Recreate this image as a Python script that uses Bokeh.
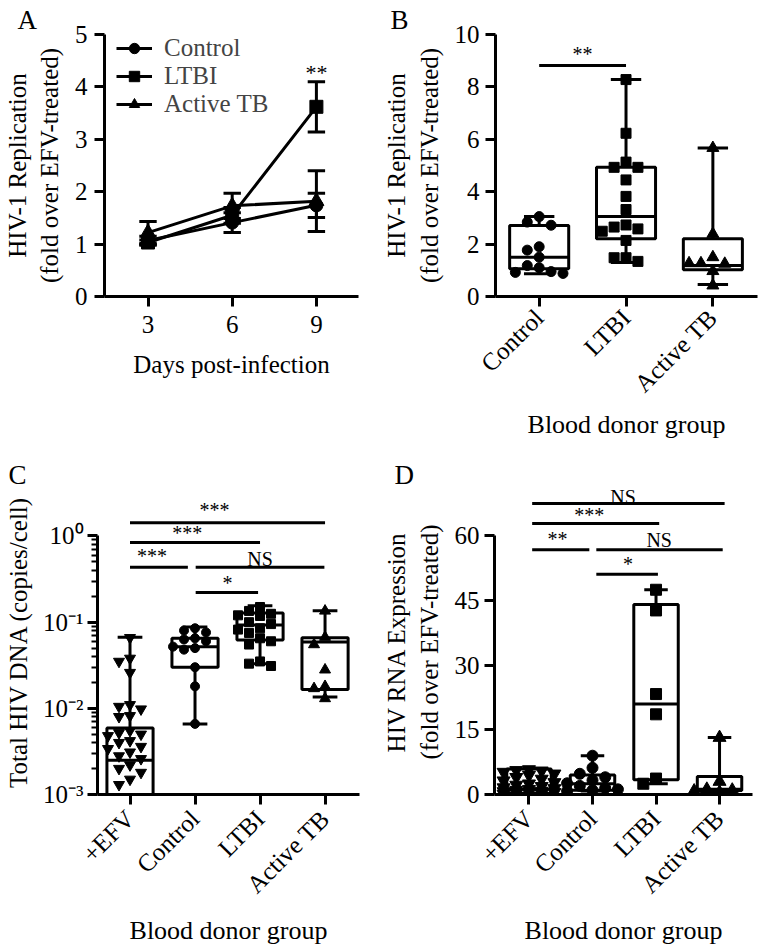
import math
from bokeh.plotting import figure
from bokeh.models import Range1d, FixedTicker, Legend, LegendItem, ColumnDataSource
from bokeh.layouts import column, row
from bokeh.core.properties import value
from bokeh.embed import file_html
from bokeh.resources import INLINE

FONT = "Liberation Serif"

# ---------------- Panel A data ----------------
days = [3, 6, 9]
a_names = ["Control", "LTBI", "Active TB"]
a_control = [1.07, 1.41, 1.74]
a_control_err = [0.08, 0.19, 0.23]
a_ltbi = [1.03, 1.55, 3.62]
a_ltbi_err = [0.05, 0.15, 0.48]
a_active = [1.22, 1.73, 1.82]
a_active_err = [0.21, 0.24, 0.58]
a_sig_x = [9]
a_sig_y = [4.27]
a_sig_text = ["**"]
a_yticks = [0, 1, 2, 3, 4, 5]

# ---------------- Panel B data ----------------
b_groups = ["Control", "LTBI", "Active TB"]
b_control = [3.05, 2.84, 2.72, 1.90, 1.77, 1.50, 1.18, 1.10, 0.95, 0.92, 0.88]
b_ltbi = [8.28, 6.23, 5.13, 4.93, 4.93, 4.45, 3.82, 3.32, 2.73, 2.65, 2.58, 2.49,
          2.14, 1.48, 1.48, 1.34]
b_active = [5.67, 2.39, 1.50, 1.27, 1.25, 1.27, 0.97, 0.42]
b_q1 = [1.06, 2.20, 1.02]
b_median = [1.50, 3.05, 1.18]
b_q3 = [2.71, 4.93, 2.20]
b_min = [0.87, 1.30, 0.46]
b_max = [3.05, 8.28, 5.67]
b_sig_x0 = [1.0]
b_sig_x1 = [2.0]
b_sig_y = [8.82]
b_sig_tx = [1.5]
b_sig_ty = [9.27]
b_sig_text = ["**"]
b_yticks = [0, 2, 4, 6, 8, 10]

# ---------------- Panel C data ----------------
c_groups = ["+EFV", "Control", "LTBI", "Active TB"]
c_efv = [0.066, 0.038, 0.035, 0.026, 0.011, 0.0105, 0.0098, 0.0082, 0.0080, 0.0055,
         0.0052, 0.0050, 0.0048, 0.0042, 0.0040, 0.0036, 0.0034, 0.0031, 0.0028,
         0.0026, 0.0022, 0.0020, 0.0018, 0.0015, 0.0013]
c_control = [0.085, 0.080, 0.076, 0.065, 0.063, 0.060, 0.052, 0.050, 0.048, 0.030,
             0.018, 0.0066]
c_ltbi = [0.150, 0.135, 0.125, 0.120, 0.118, 0.100, 0.095, 0.085, 0.082, 0.075,
          0.065, 0.060, 0.055, 0.035, 0.033, 0.031]
c_active = [0.135, 0.067, 0.055, 0.028, 0.018, 0.017, 0.013]
c_q1 = [0.0009, 0.030, 0.062, 0.0165]
c_median = [0.0025, 0.052, 0.093, 0.059]
c_q3 = [0.0059, 0.065, 0.128, 0.066]
c_min = [0.0013, 0.0066, 0.033, 0.0135]
c_max = [0.067, 0.088, 0.155, 0.136]
c_sig_x0 = [1.0, 1.0, 1.0, 2.01, 2.01]
c_sig_x1 = [4.0, 3.0, 1.89, 3.99, 2.97]
c_sig_y = [1.42, 0.838, 0.433, 0.433, 0.221]
c_sig_tx = [2.30, 1.88, 1.34, 3.0, 2.5]
c_sig_ty = [1.99, 1.09, 0.59, 0.54, 0.287]
c_sig_text = ["***", "***", "***", "NS", "*"]
c_yticks = [0.001, 0.01, 0.1, 1.0]
c_ytick_labels = ["10\u207b\u00b3", "10\u207b\u00b2", "10\u207b\u00b9", "10\u2070"]

# ---------------- Panel D data ----------------
d_groups = ["+EFV", "Control", "LTBI", "Active TB"]
d_efv = [5.8, 5.6, 5.5, 5.2, 4.8, 4.5, 4.0, 3.6, 3.2, 2.8, 2.5, 2.2, 1.9, 1.6, 1.4,
         1.2, 1.0, 0.8, 0.7, 0.5, 0.4, 0.3, 0.2, 0.1]
d_control = [9.0, 6.2, 4.8, 4.0, 3.3, 2.6, 2.0, 1.5, 1.2, 1.0, 0.8]
d_ltbi = [47.5, 42.7, 23.3, 18.6, 3.7, 2.5]
d_active = [13.2, 3.0, 1.2, 1.0, 0.8, 0.5]
d_q1 = [0.3, 1.0, 3.4, 0.9]
d_median = [1.2, 2.5, 21.0, 1.2]
d_q3 = [5.9, 4.5, 44.1, 4.2]
d_min = [0.1, 0.8, 2.5, 0.5]
d_max = [5.8, 9.0, 47.5, 13.2]
d_sig_x0 = [1.05, 1.05, 1.05, 2.06, 2.06]
d_sig_x1 = [4.08, 3.05, 1.95, 4.05, 3.03]
d_sig_y = [67.5, 62.9, 56.8, 56.8, 51.1]
d_sig_tx = [2.48, 1.95, 1.45, 3.05, 2.56]
d_sig_ty = [69.0, 64.8, 59.3, 59.1, 53.4]
d_sig_text = ["NS", "***", "**", "NS", "*"]
d_yticks = [0, 15, 30, 45, 60]

# ---------------- geometry (page pixels) ----------------
GA = dict(W=380, H=455, L=95, R=22, T=34, B=159, xr=(1.45, 10.5), yr=(0, 5), log=False)
GB = dict(W=380, H=455, L=113, R=3, T=34, B=159, xr=(0.497, 3.514), yr=(0, 10), log=False)
GC = dict(W=380, H=492, L=97, R=21, T=34, B=149, xr=(0.5, 4.53),
          yr=(1e-3, 10 ** 0.5395), log=True)
GD = dict(W=380, H=492, L=108, R=8, T=34, B=149, xr=(0.457, 4.519),
          yr=(0, 70.76), log=False)


def fsize(g):
    return g["W"] - g["L"] - g["R"], g["H"] - g["T"] - g["B"]


def xppu(g):
    fw, fh = fsize(g)
    return fw / (g["xr"][1] - g["xr"][0])


def ypx_func(g):
    fw, fh = fsize(g)
    if g["log"]:
        a, b = math.log10(g["yr"][0]), math.log10(g["yr"][1])
        k = fh / (b - a)
        return lambda v: math.log10(v) * k
    k = fh / (g["yr"][1] - g["yr"][0])
    return lambda v: v * k


def style_axis(ax):
    ax.axis_line_width = 3
    ax.axis_line_color = "black"
    ax.major_tick_line_width = 3
    ax.major_tick_line_color = "black"
    ax.major_tick_out = 10
    ax.major_tick_in = 0
    ax.minor_tick_line_color = None
    ax.major_label_text_font = FONT
    ax.major_label_text_font_size = "25px"
    ax.major_label_text_color = "black"
    ax.axis_label_text_font = FONT
    ax.axis_label_text_font_size = "25px"
    ax.axis_label_text_font_style = "normal"
    ax.axis_label_text_color = "black"


def make_fig(g, letter):
    p = figure(width=g["W"], height=g["H"],
               x_range=Range1d(*g["xr"]), y_range=Range1d(*g["yr"]),
               y_axis_type="log" if g["log"] else "linear",
               output_backend="svg", toolbar_location=None,
               min_border_left=g["L"], min_border_right=g["R"],
               min_border_top=g["T"], min_border_bottom=g["B"])
    p.outline_line_color = None
    p.xgrid.visible = False
    p.ygrid.visible = False
    p.background_fill_color = "white"
    p.border_fill_color = "white"
    for ax in p.axis:
        style_axis(ax)
    p.title.text = letter
    p.title.text_font = FONT
    p.title.text_font_size = "27px"
    p.title.text_font_style = "normal"
    p.title.text_color = "black"
    p.title.align = "left"
    p.title.offset = 8 - g["L"]
    p.title.standoff = 0
    return p


def swarm(vals, ypx, ppu, msize, half_w):
    step = msize + 2
    maxk = max(1, int(round(half_w / step)))
    placed = []
    offs = []
    for v in vals:
        y = ypx(v)
        cands = [0]
        for k in range(1, maxk + 1):
            cands += [-k * step, k * step]
        chosen = None
        for c in cands:
            if all(not (abs(c - qx) < step * 0.95 and abs(y - qy) < msize * 0.95) for qx, qy in placed):
                chosen = c
                break
        if chosen is None:
            chosen = max(cands, key=lambda c: min((c - qx) ** 2 + (y - qy) ** 2 for qx, qy in placed))
        placed.append((chosen, y))
        offs.append(chosen / ppu)
    return offs


def box_panel(p, g, groups, q1, med, q3, lo, hi, box_w, cap_w, msize):
    xs = list(range(1, len(q1) + 1))
    src = ColumnDataSource(dict(
        x=xs, q1=q1, med=med, q3=q3, lo=lo, hi=hi,
        left=[x - box_w / 2 for x in xs], right=[x + box_w / 2 for x in xs],
        cl=[x - cap_w / 2 for x in xs], cr=[x + cap_w / 2 for x in xs]))
    kw = dict(source=src, line_width=3, line_color="black")
    p.segment(x0="x", y0="lo", x1="x", y1="hi", **kw)
    p.segment(x0="cl", y0="hi", x1="cr", y1="hi", **kw)
    p.segment(x0="cl", y0="lo", x1="cr", y1="lo", **kw)
    p.quad(left="left", right="right", bottom="q1", top="q3", fill_color="white", **kw)
    p.segment(x0="left", y0="med", x1="right", y1="med", **kw)
    ypx = ypx_func(g)
    ppu = xppu(g)
    for i, (vals, marker) in enumerate(groups):
        offs = swarm(vals, ypx, ppu, msize, box_w * ppu / 2)
        p.scatter([xs[i] + o for o in offs], vals, marker=marker,
                  size=msize + (2 if "triangle" in marker else 0),
                  fill_color="black", line_color="black")


def sig_panel(p, x0, x1, y, tx, ty, text, size="20px"):
    p.segment(x0=x0, y0=y, x1=x1, y1=y, line_width=3, line_color="black")
    src = ColumnDataSource(dict(x=tx, y=ty, t=text))
    p.text(x="x", y="y", text="t", source=src, text_font=value(FONT), text_font_size=size,
           text_align="center", text_baseline="middle", text_color="black")


def cat_xaxis(p, labels):
    p.xaxis.ticker = FixedTicker(ticks=list(range(1, len(labels) + 1)))
    p.xaxis.major_label_overrides = {i + 1: lab for i, lab in enumerate(labels)}
    p.xaxis.major_label_orientation = math.pi / 4
    p.xaxis.axis_label_text_font_size = "26px"


# ---------------- Panel A ----------------
pA = make_fig(GA, "A")
pA.xaxis.ticker = FixedTicker(ticks=days)
pA.yaxis.ticker = FixedTicker(ticks=a_yticks)
pA.xaxis.axis_label = "Days post-infection"
pA.yaxis.axis_label = "HIV-1 Replication\n(fold over EFV-treated)"
pA.xaxis.major_label_standoff = 9
pA.xaxis.axis_label_standoff = 15
pA.yaxis.major_label_standoff = 7
pA.yaxis.axis_label_standoff = 9
cap = 0.62
items = []
for name, vals, errs, marker, msz in [("Control", a_control, a_control_err, "circle", 13),
                                      ("LTBI", a_ltbi, a_ltbi_err, "square", 13),
                                      ("Active TB", a_active, a_active_err, "triangle", 15)]:
    ln = pA.line(days, vals, line_width=3, line_color="black")
    lo = [v - e for v, e in zip(vals, errs)]
    hi = [v + e for v, e in zip(vals, errs)]
    pA.segment(x0=days, y0=lo, x1=days, y1=hi, line_width=3, line_color="black")
    pA.segment(x0=[d - cap / 2 for d in days], y0=hi, x1=[d + cap / 2 for d in days], y1=hi,
               line_width=3, line_color="black")
    pA.segment(x0=[d - cap / 2 for d in days], y0=lo, x1=[d + cap / 2 for d in days], y1=lo,
               line_width=3, line_color="black")
    sc = pA.scatter(days, vals, marker=marker, size=msz, fill_color="black", line_color="black")
    items.append(LegendItem(label=name, renderers=[ln, sc]))
leg = Legend(items=items, location=(12, 178), label_text_font=FONT, label_text_font_size="25px",
             border_line_color=None, background_fill_alpha=0, glyph_width=36, glyph_height=26,
             label_height=20, spacing=0, padding=0, margin=0, label_standoff=12)
pA.add_layout(leg)
pA.text(x=a_sig_x, y=a_sig_y, text=a_sig_text, text_font=value(FONT), text_font_size="22px",
        text_align="center", text_baseline="middle", text_color="black")

# ---------------- Panel B ----------------
pB = make_fig(GB, "B")
cat_xaxis(pB, b_groups)
pB.yaxis.ticker = FixedTicker(ticks=b_yticks)
pB.xaxis.axis_label = "Blood donor group"
pB.yaxis.axis_label = "HIV-1 Replication\n(fold over EFV-treated)"
pB.xaxis.major_label_standoff = 7
pB.xaxis.axis_label_standoff = 0
pB.yaxis.major_label_standoff = 6
pB.yaxis.axis_label_standoff = 9
box_panel(pB, GB, [(b_control, "circle"), (b_ltbi, "square"), (b_active, "triangle")],
          b_q1, b_median, b_q3, b_min, b_max, 0.68, 0.35, 10)
sig_panel(pB, b_sig_x0, b_sig_x1, b_sig_y, b_sig_tx, b_sig_ty, b_sig_text)

# ---------------- Panel C ----------------
pC = make_fig(GC, "C")
cat_xaxis(pC, c_groups)
minor = [k * 10.0 ** e for e in (-3, -2, -1) for k in range(2, 10)]
pC.yaxis.ticker = FixedTicker(ticks=c_yticks, minor_ticks=minor)
pC.yaxis.major_label_overrides = {t: lab for t, lab in zip(c_yticks, c_ytick_labels)}
pC.yaxis.bounds = (c_yticks[0], c_yticks[-1])
pC.yaxis.minor_tick_line_color = "black"
pC.yaxis.minor_tick_line_width = 2
pC.yaxis.minor_tick_out = 6
pC.yaxis.minor_tick_in = 0
pC.xaxis.axis_label = "Blood donor group"
pC.yaxis.axis_label = "Total HIV DNA (copies/cell)"
pC.xaxis.major_label_standoff = 10
pC.xaxis.axis_label_standoff = 5
pC.yaxis.major_label_standoff = 4
pC.yaxis.axis_label_standoff = 8
box_panel(pC, GC, [(c_efv, "inverted_triangle"), (c_control, "circle"), (c_ltbi, "square"),
                   (c_active, "triangle")],
          c_q1, c_median, c_q3, c_min, c_max, 0.71, 0.38, 9)
sig_panel(pC, c_sig_x0, c_sig_x1, c_sig_y, c_sig_tx, c_sig_ty, c_sig_text)

# ---------------- Panel D ----------------
pD = make_fig(GD, "D")
cat_xaxis(pD, d_groups)
pD.yaxis.ticker = FixedTicker(ticks=d_yticks)
pD.yaxis.bounds = (d_yticks[0], d_yticks[-1])
pD.xaxis.axis_label = "Blood donor group"
pD.yaxis.axis_label = "HIV RNA Expression\n(fold over EFV-treated)"
pD.xaxis.major_label_standoff = 10
pD.xaxis.axis_label_standoff = 5
pD.yaxis.major_label_standoff = 5
pD.yaxis.axis_label_standoff = 9
box_panel(pD, GD, [(d_efv, "inverted_triangle"), (d_control, "circle"), (d_ltbi, "square"),
                   (d_active, "triangle")],
          d_q1, d_median, d_q3, d_min, d_max, 0.70, 0.37, 11)
sig_panel(pD, d_sig_x0, d_sig_x1, d_sig_y, d_sig_tx, d_sig_ty, d_sig_text)

layout = column(row(pA, pB), row(pC, pD))
open("out.html", "w").write(file_html(layout, INLINE))
